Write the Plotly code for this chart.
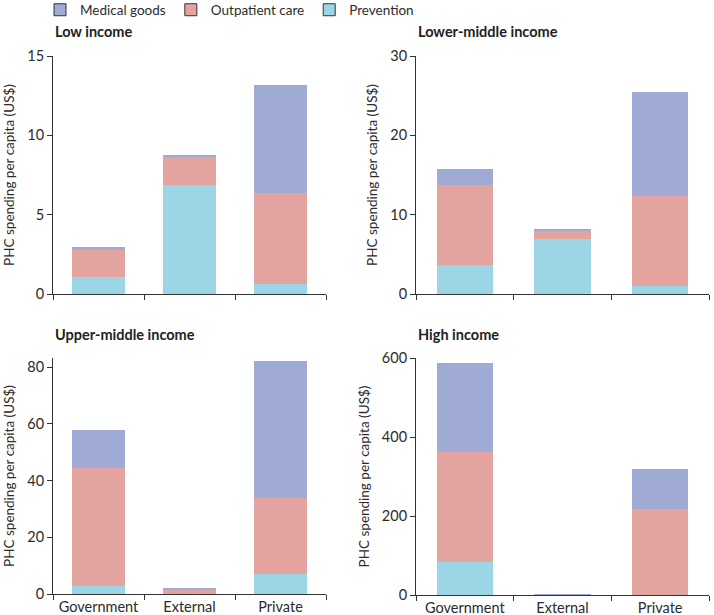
import plotly.graph_objects as go

# Data (US$ per capita)
sources = ["Government", "External", "Private"]
panels = ["Low income", "Lower-middle income", "Upper-middle income", "High income"]

prevention = {
    "Low income": [1.1, 6.9, 0.6],
    "Lower-middle income": [3.6, 6.9, 1.0],
    "Upper-middle income": [2.8, 0.1, 7.1],
    "High income": [83, 0.5, 1],
}
outpatient = {
    "Low income": [1.65, 1.75, 5.75],
    "Lower-middle income": [10.1, 1.1, 11.3],
    "Upper-middle income": [41.7, 1.6, 26.8],
    "High income": [278, 1.0, 217],
}
medical = {
    "Low income": [0.2, 0.1, 6.8],
    "Lower-middle income": [2.0, 0.2, 13.2],
    "Upper-middle income": [13.4, 0.3, 48.3],
    "High income": [226, 0.5, 101],
}

y_ranges = [[0, 15], [0, 30], [0, 83.2], [0, 600]]
y_ticks = [[0, 5, 10, 15], [0, 10, 20, 30], [0, 20, 40, 60, 80], [0, 200, 400, 600]]

colors = {"Medical goods": "#9fabd5", "Outpatient care": "#e3a49f", "Prevention": "#9cd5e6"}
font = "Lato, 'Open Sans', sans-serif"
text_color = "#2b2b2b"

W, H = 714, 615
# pixel boxes of each plot area: (left, right, top, bottom)
boxes = [(53, 326, 56, 294), (416, 709, 56, 294), (53, 326, 358, 594), (416, 709, 358, 595)]

fig = go.Figure()

for i, panel in enumerate(panels):
    ax = "" if i == 0 else str(i + 1)
    for name, vals in [("Prevention", prevention), ("Outpatient care", outpatient), ("Medical goods", medical)]:
        fig.add_trace(
            go.Bar(
                x=sources,
                y=vals[panel],
                name=name,
                marker=dict(color=colors[name], line=dict(width=0)),
                showlegend=False,
                xaxis="x" + ax,
                yaxis="y" + ax,
            )
        )

# legend-only entries with outlined swatches
for name in ["Medical goods", "Outpatient care", "Prevention"]:
    fig.add_trace(
        go.Bar(
            x=[sources[0]],
            y=[None],
            name=name,
            marker=dict(color=colors[name], line=dict(color="#333333", width=1)),
            xaxis="x",
            yaxis="y",
        )
    )

layout = dict(
    width=W,
    height=H,
    margin=dict(l=0, r=0, t=0, b=0, autoexpand=False),
    plot_bgcolor="white",
    paper_bgcolor="white",
    barmode="stack",
    bargap=0.42,
    font=dict(family=font, size=14, color=text_color),
    legend=dict(
        orientation="h",
        x=40 / W,
        y=1.009,
        xanchor="left",
        yanchor="top",
        font=dict(size=13.5),
        traceorder="normal",
        itemwidth=30,
    ),
    annotations=[],
)

for i, panel in enumerate(panels):
    l, r, t, b = boxes[i]
    key = "" if i == 0 else str(i + 1)
    layout["xaxis" + key] = dict(
        domain=[l / W, r / W],
        anchor="y" + key,
        type="category",
        showline=True,
        linecolor="#333333",
        linewidth=1,
        ticks="outside",
        tickson="boundaries",
        ticklen=5,
        tickcolor="#333333",
        showticklabels=i >= 2,
        tickfont=dict(size=14.5),
        showgrid=False,
        fixedrange=True,
        automargin=False,
    )
    layout["yaxis" + key] = dict(
        domain=[1 - b / H, 1 - t / H],
        anchor="x" + key,
        range=y_ranges[i],
        tickvals=y_ticks[i],
        showline=True,
        linecolor="#333333",
        linewidth=1,
        ticks="outside",
        ticklen=5,
        tickcolor="#333333",
        tickfont=dict(size=14.5),
        showgrid=False,
        zeroline=False,
        automargin=False,
        title=dict(text="PHC spending per capita (US$)", font=dict(size=13.5), standoff=9),
    )
    layout["annotations"].append(
        dict(
            text="<b>" + panel + "</b>",
            x=l / W,
            y=1 - (t - 24) / H,
            xref="paper",
            yref="paper",
            xanchor="left",
            yanchor="middle",
            showarrow=False,
            font=dict(size=14.5, color="#222222"),
        )
    )

fig.update_layout(**layout)

# the page's default body margin would push the figure 8px in
fig.write_html(
    "out.html",
    config={"displayModeBar": False},
    post_script="document.body.style.margin='0';",
)
